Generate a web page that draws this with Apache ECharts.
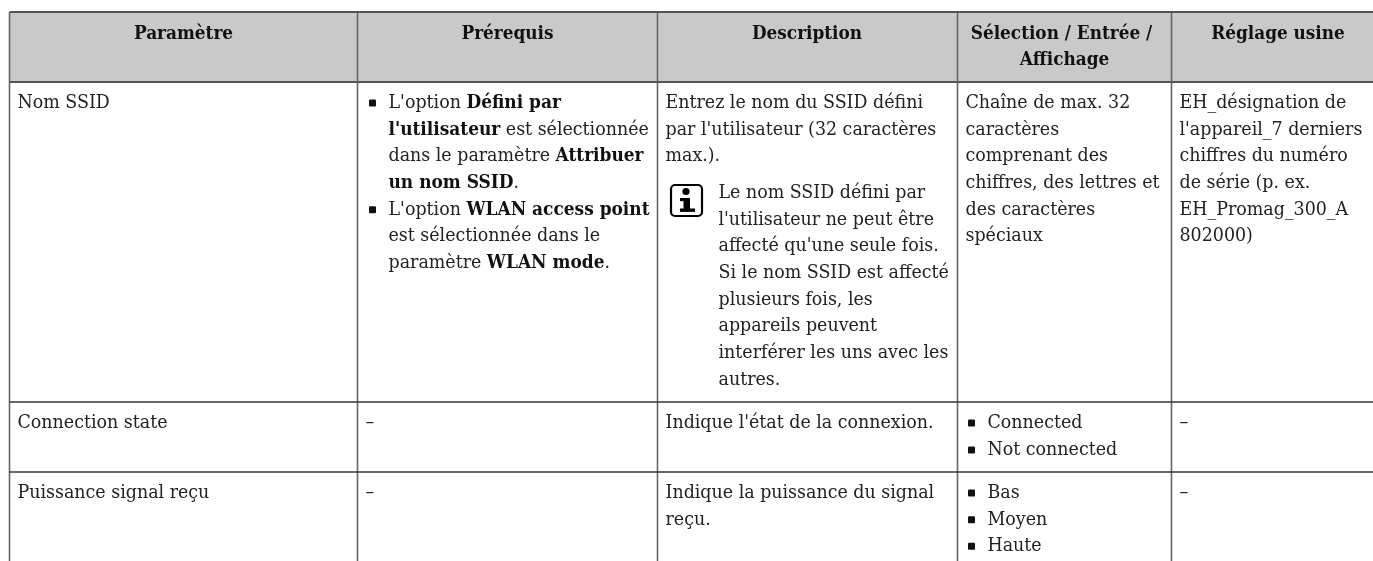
<!DOCTYPE html>
<html><head><meta charset="utf-8">
<style>html,body{margin:0;padding:0;background:#fff}#c{width:1373px;height:561px}</style>
<script src="https://cdn.jsdelivr.net/npm/echarts@6/dist/echarts.min.js"></script>
</head><body><div id="c"></div>
<script>
var columnEdges = [9.5, 357.5, 657.5, 957.5, 1171.5, 1373];
var rowEdges = [12, 82, 402, 472, 561];
// [text, centre x of the heading line, centre y]
var headerLabels = [
  ['Paramètre', 183.5, 34.5],
  ['Prérequis', 507.5, 34.5],
  ['Description', 807, 34.5],
  ['Sélection / Entrée /', 1061.5, 34.5],
  ['Affichage', 1064.5, 60.5],
  ['Réglage usine', 1278, 34.5]
];
// [column, line centre, text indent, bullet?, text]
var bodyLines = [
  [0, 103, 8, 0, 'Nom SSID'],
  [1, 103, 31, 1, "L'option {b|Défini par}"],
  [1, 129.7, 31, 0, "{b|l'utilisateur} est sélectionnée"],
  [1, 156.3, 31, 0, 'dans le paramètre {b|Attribuer}'],
  [1, 183, 31, 0, '{b|un nom SSID}.'],
  [1, 209.7, 31, 1, "L'option {b|WLAN access point}"],
  [1, 236.3, 31, 0, 'est sélectionnée dans le'],
  [1, 263, 31, 0, 'paramètre {b|WLAN mode}.'],
  [2, 103, 8, 0, 'Entrez le nom du SSID défini'],
  [2, 129.7, 8, 0, "par l'utilisateur (32 caractères"],
  [2, 156.3, 8, 0, 'max.).'],
  [2, 193, 61, 0, 'Le nom SSID défini par'],
  [2, 219.7, 61, 0, "l'utilisateur ne peut être"],
  [2, 246.3, 61, 0, "affecté qu'une seule fois."],
  [2, 273, 61, 0, 'Si le nom SSID est affecté'],
  [2, 299.7, 61, 0, 'plusieurs fois, les'],
  [2, 326.3, 61, 0, 'appareils peuvent'],
  [2, 353, 61, 0, 'interférer les uns avec les'],
  [2, 379.7, 61, 0, 'autres.'],
  [3, 103, 8, 0, 'Chaîne de max. 32'],
  [3, 129.7, 8, 0, 'caractères'],
  [3, 156.3, 8, 0, 'comprenant des'],
  [3, 183, 8, 0, 'chiffres, des lettres et'],
  [3, 209.7, 8, 0, 'des caractères'],
  [3, 236.3, 8, 0, 'spéciaux'],
  [4, 103, 8, 0, 'EH_désignation de'],
  [4, 129.7, 8, 0, "l'appareil_7 derniers"],
  [4, 156.3, 8, 0, 'chiffres du numéro'],
  [4, 183, 8, 0, 'de série (p. ex.'],
  [4, 209.7, 8, 0, 'EH_Promag_300_A'],
  [4, 236.3, 8, 0, '802000)'],
  [0, 423, 8, 0, 'Connection state'],
  [1, 423, 8, 0, '–'],
  [2, 423, 8, 0, "Indique l'état de la connexion."],
  [3, 423, 30, 1, 'Connected'],
  [3, 450, 30, 1, 'Not connected'],
  [4, 423, 8, 0, '–'],
  [0, 493, 8, 0, 'Puissance signal reçu'],
  [1, 493, 8, 0, '–'],
  [2, 493, 8, 0, 'Indique la puissance du signal'],
  [2, 519.7, 8, 0, 'reçu.'],
  [3, 493, 30, 1, 'Bas'],
  [3, 519.7, 30, 1, 'Moyen'],
  [3, 546.3, 30, 1, 'Haute'],
  [4, 493, 8, 0, '–']
];
var FF = '"DejaVu Serif Condensed","DejaVu Serif",serif';
var FS = 19.4, BS = 18.9, HS = 18.8;
var chart = echarts.init(document.getElementById('c'));
function textEl(p, text, align, size) {
  var s = size || FS;
  return {type:'text', x:p[0], y:p[1], style:{
    text:text, fill:'#222', font:'normal '+s+'px '+FF,
    align:align||'left', verticalAlign:'middle',
    rich:{b:{fontFamily:FF,fontSize:size||BS,fontWeight:'bold',fill:'#111'}}
  }};
}
chart.setOption({
  animation:false,
  grid:{left:0,right:0,top:0,bottom:0},
  xAxis:{type:'value',min:0,max:1373,show:false},
  yAxis:{type:'value',min:0,max:561,inverse:true,show:false},
  series:[
  {type:'custom',coordinateSystem:'cartesian2d',silent:true,clip:false,data:[[0,0]],
   renderItem:function(params,api){
     var kids=[];
     var a=api.coord([columnEdges[0],rowEdges[0]]), b=api.coord([columnEdges[5],rowEdges[1]]);
     kids.push({type:'rect',shape:{x:a[0],y:a[1],width:b[0]-a[0],height:b[1]-a[1]},style:{fill:'#c9c9c9'}});
     columnEdges.slice(0,5).forEach(function(x){
       var p=api.coord([x,rowEdges[0]]), q=api.coord([x,rowEdges[4]]);
       kids.push({type:'line',shape:{x1:p[0],y1:p[1],x2:q[0],y2:q[1]},style:{stroke:'#666',lineWidth:1.6}});
     });
     rowEdges.slice(0,4).forEach(function(y,i){
       var p=api.coord([columnEdges[0],y]), q=api.coord([columnEdges[5],y]);
       kids.push({type:'line',shape:{x1:p[0],y1:p[1],x2:q[0],y2:q[1]},style:{stroke:i<2?'#555':'#333',lineWidth:i<2?2:1.5}});
     });
     headerLabels.forEach(function(h){
       kids.push(textEl(api.coord([h[1],h[2]]),'{b|'+h[0]+'}','center',HS));
     });
     bodyLines.forEach(function(l){
       var x0=columnEdges[l[0]];
       kids.push(textEl(api.coord([x0+l[2],l[1]]),l[4]));
       if(l[3]){
         var c=api.coord([x0+l[2]-16,l[1]]);
         kids.push({type:'rect',shape:{x:c[0]-3.5,y:c[1]-3.5,width:7,height:7,r:1},style:{fill:'#111'}});
       }
     });
     var t=api.coord([671,185]);
     kids.push({type:'rect',shape:{x:t[0],y:t[1],width:31,height:31,r:4},style:{fill:'#fff',stroke:'#000',lineWidth:2.2}});
     kids.push({type:'circle',shape:{cx:t[0]+15,cy:t[1]+6.5,r:3.6},style:{fill:'#000'}});
     kids.push({type:'rect',shape:{x:t[0]+9,y:t[1]+13,width:10,height:3.2},style:{fill:'#000'}});
     kids.push({type:'rect',shape:{x:t[0]+12.5,y:t[1]+13,width:6.5,height:12},style:{fill:'#000'}});
     kids.push({type:'rect',shape:{x:t[0]+9,y:t[1]+23.5,width:15,height:3.4},style:{fill:'#000'}});
     return {type:'group',children:kids};
   }}
  ]
});
</script></body></html>
